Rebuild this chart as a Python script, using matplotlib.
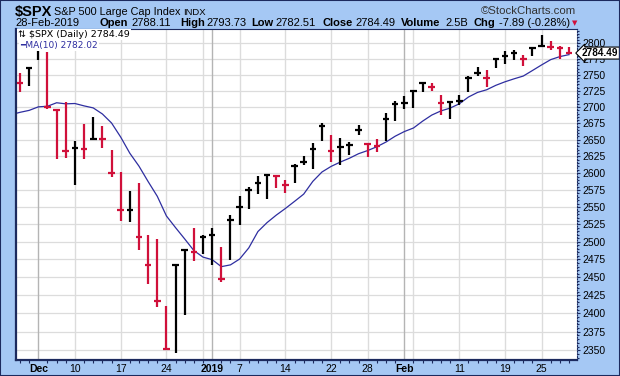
import matplotlib
matplotlib.use("Agg")
import matplotlib.pyplot as plt
from matplotlib.ticker import FixedLocator, FixedFormatter, NullFormatter
import matplotlib.transforms as mtransforms

# ---------------- data ----------------
dates = ["Nov29", "Nov30", "Dec3", "Dec4", "Dec6", "Dec7", "Dec10", "Dec11", "Dec12", "Dec13",
         "Dec14", "Dec17", "Dec18", "Dec19", "Dec20", "Dec21", "Dec24", "Dec26", "Dec27", "Dec28",
         "Dec31", "Jan2", "Jan3", "Jan4", "Jan7", "Jan8", "Jan9", "Jan10", "Jan11", "Jan14",
         "Jan15", "Jan16", "Jan17", "Jan18", "Jan22", "Jan23", "Jan24", "Jan25", "Jan28", "Jan29",
         "Jan30", "Jan31", "Feb1", "Feb4", "Feb5", "Feb6", "Feb7", "Feb8", "Feb11", "Feb12",
         "Feb13", "Feb14", "Feb15", "Feb19", "Feb20", "Feb21", "Feb22", "Feb25", "Feb26", "Feb27",
         "Feb28"]
highs = [2753.75, 2760.88, 2800.18, 2785.93, 2696.15, 2708.54, 2647.51, 2674.35, 2685.44, 2670.19,
         2635.07, 2601.13, 2573.99, 2585.29, 2509.63, 2504.41, 2410.34, 2467.76, 2489.10, 2520.27,
         2509.24, 2519.49, 2493.14, 2538.07, 2566.16, 2579.82, 2595.32, 2597.82, 2596.27, 2589.32,
         2613.08, 2625.76, 2645.06, 2675.47, 2657.88, 2653.19, 2647.20, 2672.38, 2644.97, 2650.93,
         2690.44, 2708.95, 2716.66, 2724.99, 2738.98, 2738.08, 2719.32, 2708.07, 2718.05, 2748.19,
         2761.85, 2757.90, 2775.66, 2787.33, 2789.88, 2781.58, 2794.20, 2813.49, 2803.12, 2795.76,
         2793.73]
lows = [2722.94, 2732.76, 2773.38, 2697.18, 2621.53, 2623.14, 2583.23, 2621.30, 2650.26, 2637.27,
        2593.84, 2530.54, 2528.71, 2488.96, 2441.18, 2408.55, 2351.10, 2346.58, 2397.94, 2472.89,
        2482.82, 2467.47, 2443.96, 2474.33, 2524.56, 2547.56, 2568.89, 2562.02, 2577.40, 2570.41,
        2585.10, 2612.68, 2606.36, 2647.58, 2617.27, 2612.86, 2627.01, 2657.33, 2624.06, 2631.05,
        2648.34, 2678.65, 2696.88, 2698.75, 2724.03, 2724.15, 2687.26, 2681.83, 2703.79, 2722.61,
        2748.63, 2731.23, 2760.24, 2767.29, 2774.06, 2764.55, 2779.11, 2794.99, 2789.47, 2775.13,
        2782.51]
closes = [2737.80, 2760.17, 2790.37, 2700.06, 2695.95, 2633.08, 2637.72, 2636.78, 2651.07, 2650.54,
          2599.95, 2545.94, 2546.16, 2506.96, 2467.42, 2416.62, 2351.10, 2467.70, 2488.83, 2485.74,
          2506.85, 2510.03, 2447.89, 2531.94, 2549.69, 2574.41, 2584.96, 2596.64, 2596.26, 2582.61,
          2610.30, 2616.10, 2635.96, 2670.71, 2632.90, 2638.70, 2642.33, 2664.76, 2643.85, 2640.00,
          2681.05, 2704.10, 2706.53, 2724.87, 2737.70, 2731.61, 2706.05, 2707.88, 2709.80, 2744.73,
          2753.03, 2745.73, 2775.60, 2779.76, 2784.70, 2774.88, 2792.67, 2796.11, 2793.90, 2792.38,
          2784.49]
prev_close = 2743.79  # close of the day before the first bar
# MA(10) values, first one is the day before the first bar
ma10 = [2688.26, 2691.88, 2694.88, 2700.29, 2701.22, 2706.63, 2704.94, 2705.46, 2701.79, 2698.68,
        2689.35, 2675.57, 2654.15, 2629.73, 2610.42, 2587.56, 2565.92, 2537.25, 2520.35, 2504.12,
        2487.64, 2478.33, 2474.74, 2464.91, 2467.41, 2475.64, 2491.42, 2514.80, 2527.70, 2538.44,
        2548.13, 2558.47, 2569.08, 2587.89, 2601.76, 2610.09, 2616.51, 2622.25, 2629.06, 2633.82,
        2639.56, 2646.64, 2655.44, 2662.49, 2667.91, 2678.39, 2687.68, 2694.05, 2698.36, 2704.96,
        2715.43, 2722.63, 2726.79, 2733.70, 2739.19, 2743.89, 2748.22, 2756.88, 2765.70, 2774.11,
        2778.88, 2782.02]

x_labels = ["Dec", "10", "17", "24", "2019", "7", "14", "22", "28", "Feb", "11", "19", "25"]
x_label_dates = ["Dec3", "Dec10", "Dec17", "Dec24", "Jan2", "Jan7", "Jan14", "Jan22", "Jan28",
                 "Feb1", "Feb11", "Feb19", "Feb25"]
bold_labels = ["Dec", "2019", "Feb"]
week_starts = ["Dec3", "Dec10", "Dec17", "Dec24", "Dec31", "Jan2", "Jan7", "Jan14", "Jan22",
               "Jan28", "Feb1", "Feb4", "Feb11", "Feb19", "Feb25"]
month_starts = ["Dec3", "Jan2", "Feb1"]
y_ticks = [2350, 2375, 2400, 2425, 2450, 2475, 2500, 2525, 2550, 2575, 2600, 2625, 2650,
           2675, 2700, 2725, 2750, 2775, 2800]

# ---------------- figure ----------------
W, H = 620, 376
BG = "#a5c8f4"
NAVY = "#1c2a5e"
RED = "#d0103a"
MA_COLOR = "#2e2ea0"

fig = plt.figure(figsize=(W / 100, H / 100), dpi=100, facecolor=BG)

def fx(px):
    return px / W

def fy(py):
    return 1 - py / H

# outer border
fig.patches.append(plt.Rectangle((0, 0), 1, 1, transform=fig.transFigure, fill=False,
                                 ec=NAVY, lw=1.5, zorder=10))

L, R, T, B = 16, 577, 29, 360
ax = fig.add_axes([fx(L), fy(B), fx(R - L), (B - T) / H])
ax.set_facecolor("white")

idx = list(range(len(dates)))
pos = {d: i for i, d in enumerate(dates)}

ax.set_yscale("log")
ax.set_ylim(2337, 2823)
ax.set_xlim(-0.44, 60.87)

# grid
for v in y_ticks:
    ax.axhline(v, color="#dcdcdc", lw=0.9, zorder=0)
for d in week_starts:
    c = "#b4b4b4" if d in month_starts else "#dcdcdc"
    ax.axvline(pos[d], color=c, lw=1.0, zorder=0)

# bars
colors = []
prev = prev_close
for c in closes:
    colors.append("black" if c >= prev else RED)
    prev = c
ax.vlines(idx, lows, highs, colors=colors, lw=1.6, zorder=3)
ax.hlines(closes, [i - 0.36 for i in idx], [i + 0.36 for i in idx], colors=colors, lw=1.6, zorder=3)

# moving average
ax.plot(list(range(-1, len(dates))), ma10, color=MA_COLOR, lw=0.9, zorder=2)

# y axis on right
ax.yaxis.tick_right()
ax.yaxis.set_major_locator(FixedLocator(y_ticks))
ax.yaxis.set_major_formatter(FixedFormatter([str(v) for v in y_ticks]))
ax.yaxis.set_minor_locator(FixedLocator(list(range(2340, 2825, 5))))
ax.yaxis.set_minor_formatter(NullFormatter())
ax.tick_params(axis="y", which="major", length=2.5, width=0.8, color=NAVY, pad=1.5,
               labelsize=7.5, labelcolor="black")
ax.tick_params(axis="y", which="minor", length=1.2, width=0.8, color=NAVY)
for lab in ax.get_yticklabels():
    lab.set_family("Liberation Sans")

# x axis
ax.xaxis.set_major_locator(FixedLocator([pos[d] for d in x_label_dates]))
ax.xaxis.set_major_formatter(FixedFormatter(x_labels))
ax.xaxis.set_minor_locator(FixedLocator(idx))
ax.tick_params(axis="x", which="major", length=0, pad=3, labelsize=7.5)
ax.tick_params(axis="x", which="minor", length=1.8, width=0.8, color=NAVY)
for lab in ax.get_xticklabels():
    lab.set_family("Liberation Sans")
    if lab.get_text() in bold_labels:
        lab.set_fontweight("bold")

for s in ["left", "bottom"]:
    ax.spines[s].set_color(NAVY)
    ax.spines[s].set_linewidth(1.6)
ax.spines["top"].set_color(NAVY)
ax.spines["top"].set_linewidth(0.8)
ax.spines["right"].set_color(NAVY)
ax.spines["right"].set_linewidth(0.8)
ax.spines["right"].set_linestyle((0, (1, 1.5)))

# legend text inside the plot
ax.text((18 - L) / (R - L), 1 - (34.5 - T) / (B - T), "⇅ $SPX (Daily) 2784.49",
        transform=ax.transAxes, fontsize=6.8, family="DejaVu Sans", va="center", ha="left",
        zorder=5, bbox=dict(boxstyle="square,pad=0.15", fc="white", ec="none"))
ax.text((20 - L) / (R - L), 1 - (45.5 - T) / (B - T), "━MA(10) 2782.02",
        transform=ax.transAxes, fontsize=6.5, family="DejaVu Sans", va="center", ha="left",
        color=MA_COLOR, zorder=5, bbox=dict(boxstyle="square,pad=0.15", fc="white", ec="none"))

# last price label (covers the 2775 tick label, as in the original)
trans = mtransforms.blended_transform_factory(ax.transAxes, ax.transData)
ax.text(1.009, closes[-1], "2784.49", transform=trans, fontsize=7.2, fontweight="bold",
        family="Liberation Sans", va="center", ha="left", zorder=6, clip_on=False,
        bbox=dict(boxstyle="larrow,pad=0.1", fc="white", ec="black", lw=0.8))

# header
fig.text(fx(15), fy(16), "$SPX", fontsize=10.5, fontweight="bold", family="Liberation Sans",
         va="baseline", ha="left")
fig.text(fx(54), fy(15), "S&P 500 Large Cap Index", fontsize=7.8, family="Liberation Sans",
         va="baseline", ha="left")
fig.text(fx(183), fy(15), "INDX", fontsize=6.8, family="Liberation Sans", va="baseline", ha="left")
fig.text(fx(576), fy(14), "©StockCharts.com", fontsize=8.2, family="Liberation Sans",
         va="baseline", ha="right", color="#333333")

row_y = fy(26.5)
fig.text(fx(15), row_y, "28-Feb-2019", fontsize=8.0, family="Liberation Sans", va="baseline")
pieces = [(99, "Open", True), (131, "2788.11", False),
          (180, "High", True), (206, "2793.73", False),
          (251, "Low", True), (275, "2782.51", False),
          (322, "Close", True), (355, "2784.49", False),
          (401, "Volume", True), (445, "2.5B", False),
          (473, "Chg", True), (499, "-7.89 (-0.28%)", False)]
for px, s, b in pieces:
    fig.text(fx(px), row_y, s, fontsize=8.0, family="Liberation Sans",
             fontweight="bold" if b else "normal", va="baseline", ha="left")
fig.text(fx(575), fy(23), "▼", fontsize=5, color=RED, va="center", ha="center",
         family="DejaVu Sans")

fig.savefig("out.png", dpi=100, facecolor=BG)
